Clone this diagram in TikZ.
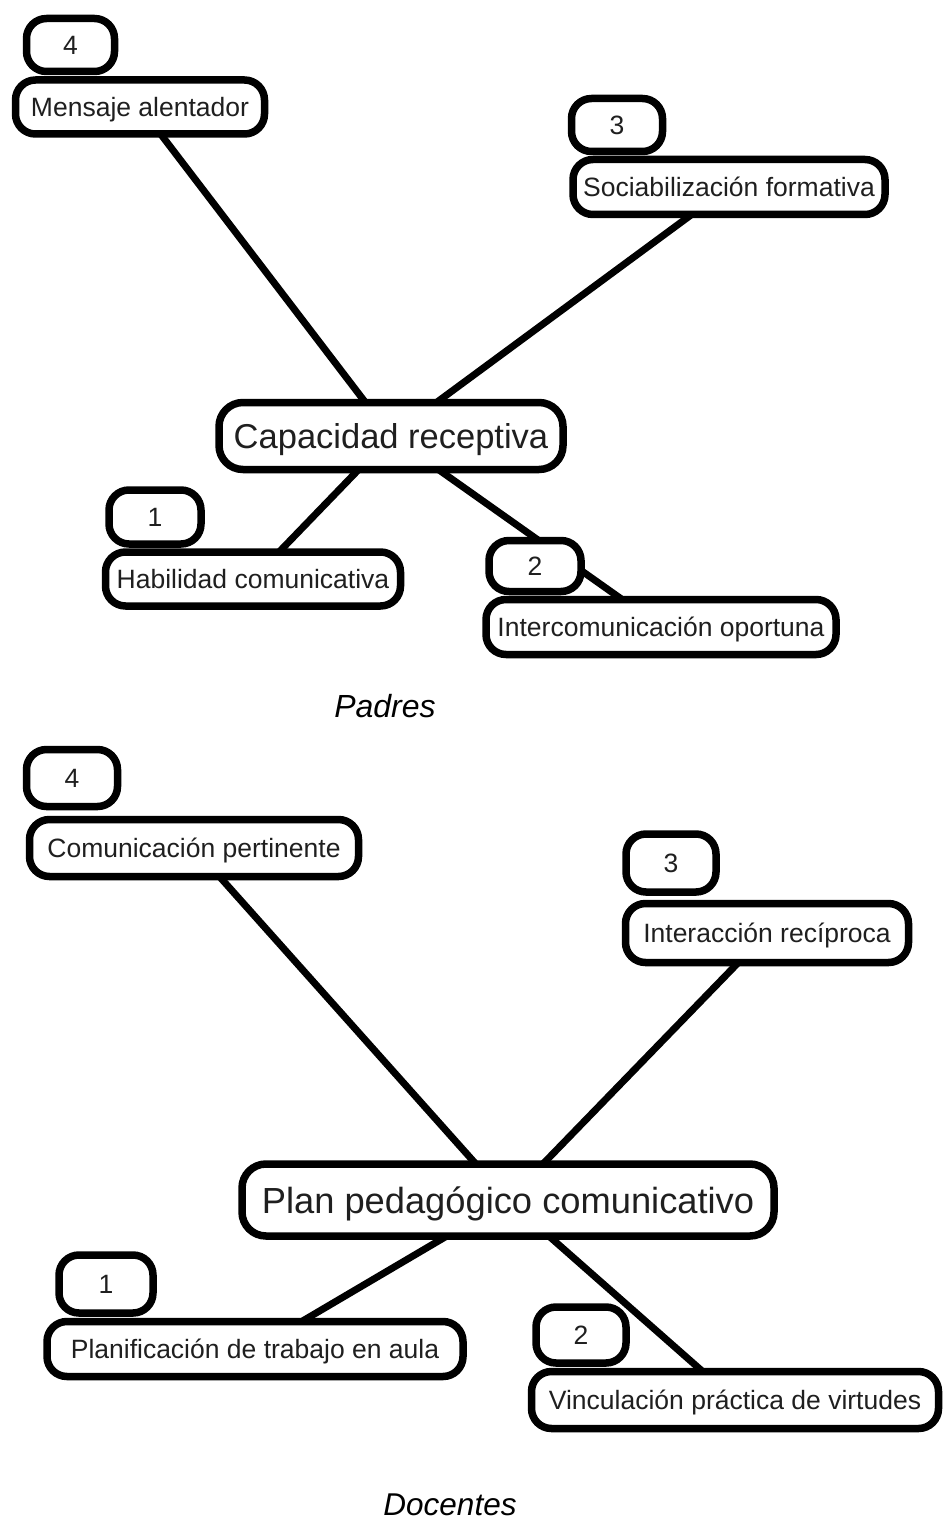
\documentclass[tikz,border=0pt]{standalone}
\usepackage{fontspec}
\setmainfont{Liberation Sans}
\usetikzlibrary{backgrounds,shadows}
\begin{document}
\begin{tikzpicture}[x=1pt,y=-1pt,
  card/.style={draw=black, line width=7.5pt, fill=white, rounded corners=20pt,
    inner sep=0pt, text=black!88, text height=19pt, text depth=0pt,
    drop shadow={opacity=0.25, shadow xshift=2pt, shadow yshift=-3pt},
    font=\fontsize{26.5}{30}\selectfont},
  badge/.style={card},
  hub/.style={card, rounded corners=24pt, text height=25pt,
    font=\fontsize{34.5}{40}\selectfont},
  spoke/.style={line width=7pt, draw=black},
  caption/.style={font=\fontsize{31.5}{36}\selectfont\itshape, text=black}]
\useasboundingbox (0,0) rectangle (943,1522);

% ---- Padres ----
\node[badge, minimum width=88pt, minimum height=53pt] (pb4) at (70.5,45) {4};
\node[card, minimum width=249pt, minimum height=54pt] (pmen) at (140,107) {Mensaje alentador};
\node[badge, minimum width=91pt, minimum height=53pt] (pb3) at (617,125) {3};
\node[card, minimum width=312pt, minimum height=55pt] (psoc) at (729,187) {Sociabilización formativa};
\node[hub, minimum width=344pt, minimum height=67pt] (pcap) at (391,436) {Capacidad receptiva};
\node[badge, minimum width=92pt, minimum height=54pt] (pb1) at (155,517) {1};
\node[card, minimum width=295pt, minimum height=54pt] (phab) at (253,579) {Habilidad comunicativa};
\node[badge, minimum width=92pt, minimum height=51pt] (pb2) at (535,566) {2};
\node[card, minimum width=350pt, minimum height=55pt] (pint) at (661,627) {Intercomunicación oportuna};
\node[caption, font=\fontsize{32}{36}\selectfont\itshape] (padres) at (385,706) {Padres};

% ---- Docentes ----
\node[badge, minimum width=91pt, minimum height=57pt] (db4) at (72,778) {4};
\node[card, minimum width=329pt, minimum height=57pt] (dcom) at (194,848) {Comunicación pertinente};
\node[badge, minimum width=90pt, minimum height=58pt] (db3) at (671,863) {3};
\node[card, minimum width=283pt, minimum height=59pt] (dinter) at (767,933) {Interacción recíproca};
\node[hub, minimum width=532pt, minimum height=72pt, text height=26pt,
  font=\fontsize{36.3}{42}\selectfont] (dplan) at (508,1200) {Plan pedagógico comunicativo};
\node[badge, minimum width=94pt, minimum height=58pt] (db1) at (106,1284) {1};
\node[card, minimum width=416pt, minimum height=55pt] (dplanif) at (255,1349) {Planificación de trabajo en aula};
\node[badge, minimum width=90pt, minimum height=56pt] (db2) at (581,1335) {2};
\node[card, minimum width=407pt, minimum height=57pt] (dvinc) at (735,1400) {Vinculación práctica de virtudes};
\node[caption] (docentes) at (450,1505) {Docentes};

% spokes, drawn behind the cards
\begin{scope}[on background layer]
  \draw[spoke] (pmen.center) -- (pcap.center);
  \draw[spoke] (psoc.center) -- (pcap.center);
  \draw[spoke] (pcap.center) -- (phab.center);
  \draw[spoke] (pcap.center) -- (pint.center);
  \draw[spoke] (dcom.center) -- (dplan.center);
  \draw[spoke] (dinter.center) -- (dplan.center);
  \draw[spoke] (dplan.center) -- (dplanif.center);
  \draw[spoke] (dplan.center) -- (dvinc.center);
\end{scope}
\end{tikzpicture}
\end{document}
